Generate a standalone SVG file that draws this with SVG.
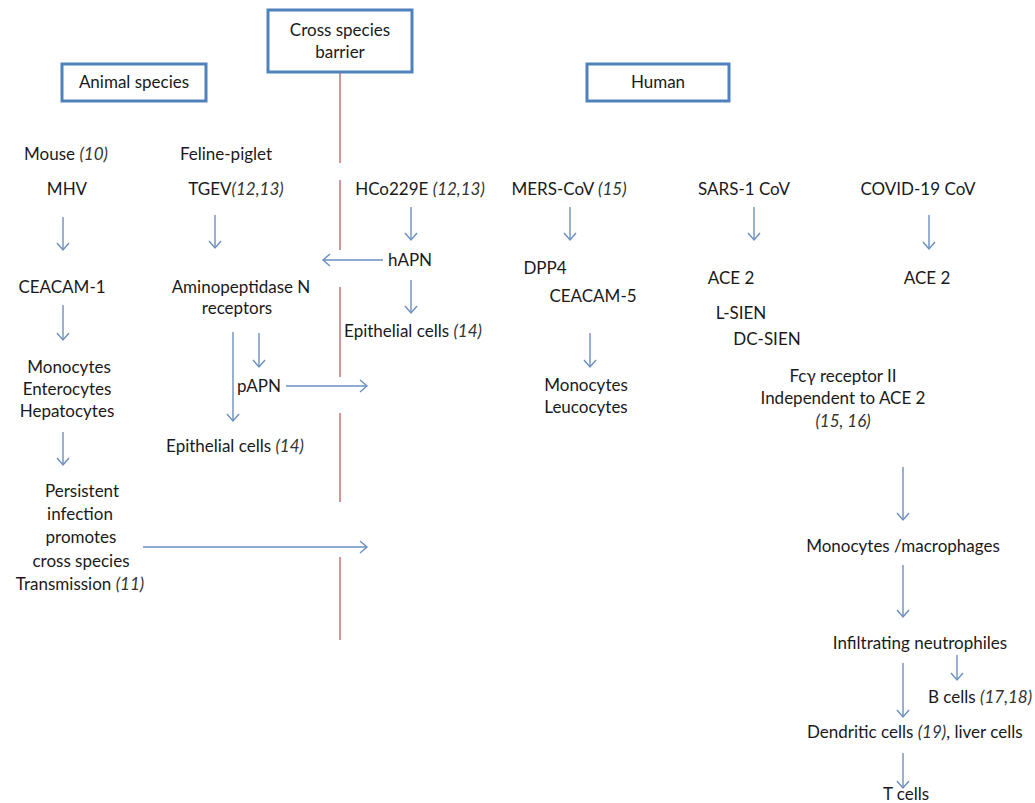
<svg xmlns="http://www.w3.org/2000/svg" width="1035" height="803" viewBox="0 0 1035 803">
<style>
text{font-family:Lato,"Open Sans","Liberation Sans",sans-serif;font-size:17px;fill:#1a1a1a}
.m{text-anchor:middle}
.i{font-style:italic;fill:#333}
.box{fill:#fff;stroke:#4F81BD;stroke-width:3}
.arr{stroke:#6A8FC0;stroke-width:1.4;fill:none;marker-end:url(#ah)}
.bar{stroke:#B5524E;stroke-width:1.2;fill:none}
</style>
<defs>
<marker id="ah" markerUnits="userSpaceOnUse" markerWidth="14" markerHeight="14" refX="8" refY="6" orient="auto" overflow="visible">
<path d="M1,0 L8,6 L1,12" fill="none" stroke="#6A8FC0" stroke-width="1.4"/>
</marker>
</defs>
<rect width="1035" height="803" fill="#fff"/>

<g id="barrier-line">
<path class="bar" d="M340,72V163M340,180V250M340,287V377M340,413V502M340,557V640"/>
</g>

<g id="cross-species-barrier">
<rect class="box" x="268" y="10" width="144" height="62"/>
<text class="m" x="340" y="36">Cross species</text>
<text class="m" x="340" y="58">barrier</text>
</g>
<g id="animal-species">
<rect class="box" x="62" y="64" width="144" height="37"/>
<text class="m" x="134" y="88">Animal species</text>
</g>
<g id="human">
<rect class="box" x="587" y="64" width="142" height="37"/>
<text class="m" x="658" y="88">Human</text>
</g>

<g id="connectors">
<line class="arr" x1="63" y1="217" x2="63" y2="250"/>
<line class="arr" x1="215" y1="215" x2="215" y2="248"/>
<line class="arr" x1="411" y1="207" x2="411" y2="240"/>
<line class="arr" x1="570" y1="207" x2="570" y2="240"/>
<line class="arr" x1="754" y1="207" x2="754" y2="240"/>
<line class="arr" x1="929" y1="215" x2="929" y2="249"/>
<line class="arr" x1="383" y1="260" x2="323" y2="260"/>
<line class="arr" x1="411" y1="280" x2="411" y2="313"/>
<line class="arr" x1="63" y1="305" x2="63" y2="340"/>
<line class="arr" x1="233" y1="332" x2="233" y2="421"/>
<line class="arr" x1="259" y1="333" x2="259" y2="367"/>
<line class="arr" x1="286" y1="386" x2="367" y2="386"/>
<line class="arr" x1="63" y1="432" x2="63" y2="465"/>
<line class="arr" x1="143" y1="547" x2="367" y2="547"/>
<line class="arr" x1="590" y1="333" x2="590" y2="367"/>
<line class="arr" x1="903" y1="467" x2="903" y2="520"/>
<line class="arr" x1="903" y1="565" x2="903" y2="617"/>
<line class="arr" x1="957" y1="655" x2="957" y2="680"/>
<line class="arr" x1="903" y1="663" x2="903" y2="717"/>
<line class="arr" x1="903" y1="753" x2="903" y2="788"/>
</g>

<g id="mouse"><text class="m" x="66" y="160">Mouse <tspan class="i">(10)</tspan></text></g>
<g id="feline-piglet"><text class="m" x="226" y="160">Feline-piglet</text></g>
<g id="mhv"><text class="m" x="67" y="195">MHV</text></g>
<g id="tgev"><text class="m" x="236" y="195">TGEV<tspan class="i">(12,13)</tspan></text></g>
<g id="hco229e"><text class="m" x="420" y="195">HCo229E <tspan class="i">(12,13)</tspan></text></g>
<g id="mers"><text class="m" x="569" y="195">MERS-CoV <tspan class="i">(15)</tspan></text></g>
<g id="sars1"><text class="m" x="744" y="195">SARS-1 CoV</text></g>
<g id="covid19"><text class="m" x="918" y="195">COVID-19 CoV</text></g>

<g id="hapn"><text class="m" x="410" y="266">hAPN</text></g>
<g id="ceacam1"><text class="m" x="62" y="293">CEACAM-1</text></g>
<g id="aminopeptidase"><text class="m" x="241" y="293">Aminopeptidase N</text><text class="m" x="237" y="314">receptors</text></g>
<g id="dpp4"><text class="m" x="545" y="274">DPP4</text></g>
<g id="ceacam5"><text class="m" x="593" y="302">CEACAM-5</text></g>
<g id="ace2-sars"><text class="m" x="731" y="284">ACE 2</text></g>
<g id="ace2-covid"><text class="m" x="927" y="284">ACE 2</text></g>
<g id="l-sien"><text class="m" x="741" y="319">L-SIEN</text></g>
<g id="dc-sien"><text class="m" x="767" y="345">DC-SIEN</text></g>
<g id="epithelial-human"><text class="m" x="413" y="337">Epithelial cells <tspan class="i">(14)</tspan></text></g>

<g id="monocytes-animal">
<text class="m" x="69" y="373">Monocytes</text>
<text class="m" x="67" y="395">Enterocytes</text>
<text class="m" x="67" y="417">Hepatocytes</text>
</g>
<g id="papn"><text class="m" x="259" y="392">pAPN</text></g>
<g id="epithelial-animal"><text class="m" x="235" y="452">Epithelial cells <tspan class="i">(14)</tspan></text></g>
<g id="monocytes-mers">
<text class="m" x="586" y="391">Monocytes</text>
<text class="m" x="586" y="413">Leucocytes</text>
</g>
<g id="fc-receptor">
<text class="m" x="843" y="382">Fcγ receptor II</text>
<text class="m" x="843" y="404">Independent to ACE 2</text>
<text class="m i" x="843" y="427">(15, 16)</text>
</g>
<g id="persistent">
<text class="m" x="82" y="497">Persistent</text>
<text class="m" x="80" y="520">infection</text>
<text class="m" x="81" y="543">promotes</text>
<text class="m" x="81" y="567">cross species</text>
<text class="m" x="80" y="590">Transmission <tspan class="i">(11)</tspan></text>
</g>
<g id="monocytes-macrophages"><text class="m" x="903" y="552">Monocytes /macrophages</text></g>
<g id="neutrophiles"><text class="m" x="920" y="649">Infiltrating neutrophiles</text></g>
<g id="b-cells"><text x="928" y="703">B cells <tspan class="i">(17,18)</tspan></text></g>
<g id="dendritic"><text x="807" y="738">Dendritic cells <tspan class="i">(19)</tspan>, liver cells</text></g>
<g id="t-cells"><text class="m" x="906" y="800">T cells</text></g>
</svg>
